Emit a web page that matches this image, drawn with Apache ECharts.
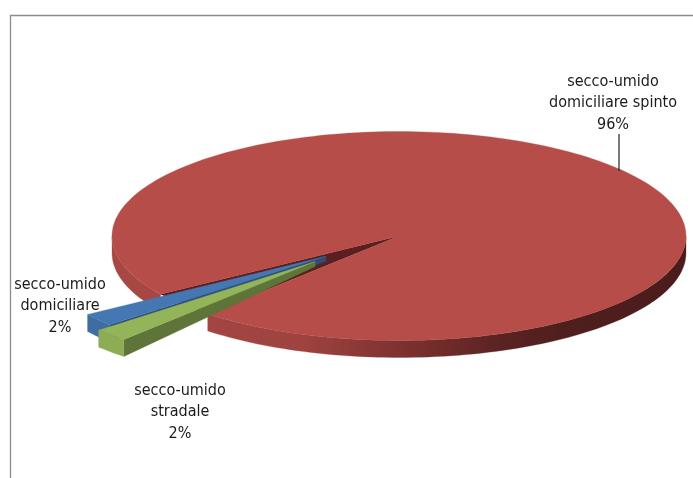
<!DOCTYPE html>
<html>
<head>
<meta charset="utf-8">
<style>html,body{margin:0;padding:0;background:#fff}#c{width:693px;height:478px}</style>
<script src="https://cdn.jsdelivr.net/npm/echarts@6/dist/echarts.min.js"></script>
</head>
<body>
<div id="c"></div>
<script>
// Data: large slice first, then the two exploded slices going back from its start
var nameLines = [['secco-umido', 'domiciliare spinto'], ['secco-umido', 'domiciliare'], ['secco-umido', 'stradale']];
var values = [96, 2, 2];
var explode = [0, 0.32, 0.41];
var explodeY = [1, 1, 0.85];
var topColors = ['#B64D49', '#4577B3', '#93B458'];
var outerColors = ['#A04340', '#3F6CA3', '#8DAD54'];
var wallColors = ['#5A1F1E', '#2C4D7A', '#5E7438'];
var labelAnchors = [[613, 103], [60, 306], [180, 412]];

var CX = 399, CY = 236, RX = 287, RY = 104.5, DEPTH = 17, APEX_DEPTH = 5, START = 146.2;
var total = values.reduce(function (a, b) { return a + b; }, 0);

function pt(t, ox, oy, d) {
  var r = t * Math.PI / 180;
  return [CX + ox + RX * Math.cos(r), CY + oy + RY * Math.sin(r) + (d || 0)];
}
function arc(a, b, ox, oy, d) {
  var out = [], n = Math.max(2, Math.ceil(Math.abs(b - a) / 1.5));
  for (var i = 0; i <= n; i++) out.push(pt(a + (b - a) * i / n, ox, oy, d));
  return out;
}
function poly(points, fill) {
  return { type: 'polygon', shape: { points: points }, style: { fill: fill, stroke: fill, lineWidth: 0.3 } };
}
function renderItem(params, api) {
  var i = params.dataIndex, children = [];
  var sweep = api.value(0) / total * 360, a, b;
  if (i === 0) {
    a = START; b = START + sweep;
  } else {
    var back = 0;
    for (var k = 1; k < i; k++) back += values[k];
    b = START - back / total * 360;
    a = b - sweep;
  }
  var m = (a + b) / 2 * Math.PI / 180;
  var ox = explode[i] * RX * Math.cos(m), oy = explode[i] * explodeY[i] * RY * Math.sin(m);
  var apex = [CX + ox, CY + oy];
  var apexD = [CX + ox, CY + oy + APEX_DEPTH];

  if (i === 0) {
    var grad = new echarts.graphic.LinearGradient(CX - RX, 0, CX + RX, 0, [
      { offset: 0, color: '#A84845' }, { offset: 0.33, color: '#9E4340' },
      { offset: 0.525, color: '#7A2F2D' }, { offset: 0.68, color: '#5A2322' },
      { offset: 0.78, color: '#4F1F1E' }, { offset: 1, color: '#4A1C1B' }
    ], true);
    var left = arc(a, 180, 0, 0, 0).concat(arc(180, a, 0, 0, DEPTH));
    var front = arc(360, b, 0, 0, 0).concat(arc(b, 360, 0, 0, DEPTH));
    children.push(poly(left, grad), poly(front, grad));
    // the cut wall fills the whole gap left by the exploded slices
    children.push(poly([apex, pt(a, 0, 0), pt(b - 360, 0, 0)], wallColors[0]));
    children.push(poly([apex].concat(arc(a, b, 0, 0, 0)), topColors[0]));
    children.push({ type: 'line', shape: { x1: 619, y1: 134, x2: 619, y2: 171 }, style: { stroke: '#222', lineWidth: 1.2 } });
  } else {
    // the wall on the lower cut edge (a) faces the viewer, the outer arc in front of it
    children.push(poly([apex, pt(a, ox, oy), pt(a, ox, oy, DEPTH), apexD], wallColors[i]));
    children.push(poly(arc(a, b, ox, oy, 0).concat(arc(b, a, ox, oy, DEPTH)), outerColors[i]));
    children.push(poly([apex].concat(arc(a, b, ox, oy, 0)), topColors[i]));
  }
  children.push({
    type: 'text', z2: 50,
    style: {
      text: nameLines[i].concat([api.value(0) + '%']).join('\n'),
      x: labelAnchors[i][0], y: labelAnchors[i][1],
      align: 'center', verticalAlign: 'middle',
      font: '16px "DejaVu Sans Condensed", "DejaVu Sans", sans-serif',
      lineHeight: 21.5, fill: '#1a1a1a'
    }
  });
  return { type: 'group', children: children };
}

var chart = echarts.init(document.getElementById('c'), null, { renderer: 'canvas' });
chart.setOption({
  animation: false,
  backgroundColor: '#fff',
  graphic: [{
    type: 'polyline', silent: true,
    shape: { points: [[10.5, 478], [10.5, 15.5], [693, 15.5]] },
    style: { stroke: '#8C8C8C', lineWidth: 1.3, fill: null }
  }],
  series: [{
    type: 'custom',
    coordinateSystem: 'none',
    silent: true,
    data: values.map(function (v, i) { return { value: [v], name: nameLines[i].join(' ') }; }),
    renderItem: renderItem
  }]
});
</script>
</body>
</html>
